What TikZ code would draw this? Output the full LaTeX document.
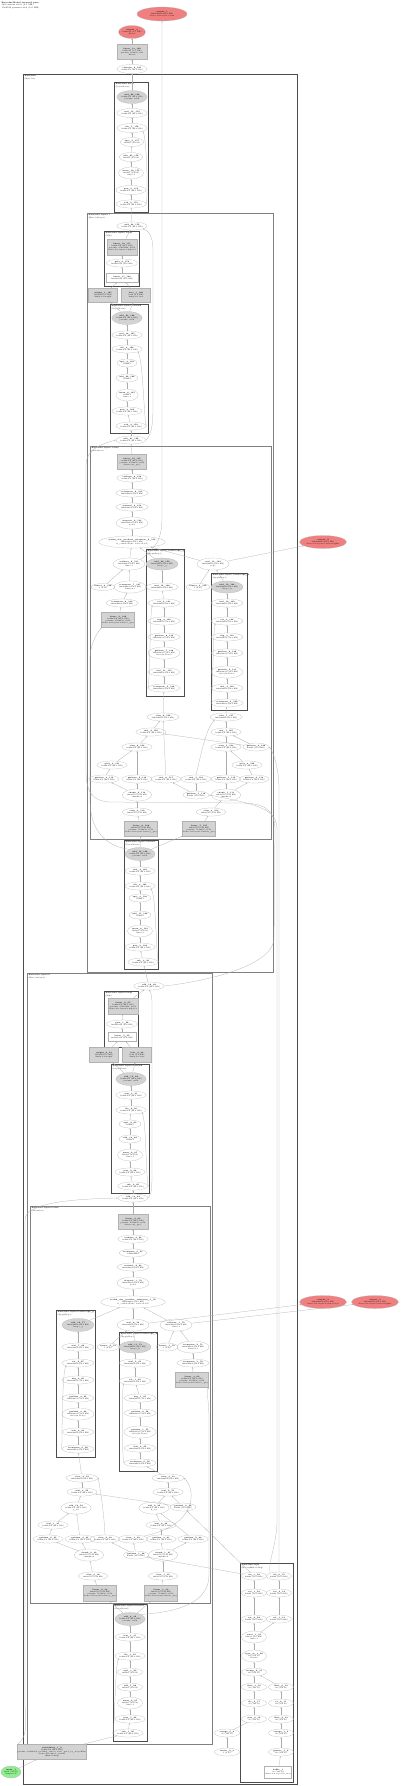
\documentclass[tikz,border=0pt]{standalone}
\usetikzlibrary{shapes.geometric, arrows.meta}

\definecolor{outred}{RGB}{240,128,128}
\definecolor{ingreen}{RGB}{144,238,144}
\definecolor{parfill}{RGB}{211,211,211}
\newcommand{\nodefont}{\fontsize{1.8}{2.2}\selectfont}

\tikzset{
	op/.style = {ellipse, draw = gray!60, line width = 0.2pt, inner sep = 0pt, align = center, font = \nodefont, minimum width = 25pt, minimum height = 8pt},
	parop/.style = {op, fill = parfill},
	outop/.style = {op, fill = outred},
	inop/.style = {op, fill = ingreen},
	wbox/.style = {rectangle, draw = gray!60, fill = parfill, line width = 0.2pt, inner sep = 0.3pt, align = center, font = \nodefont, minimum width = 30pt, minimum height = 15pt},
	bbox/.style = {wbox, fill = white},
	module/.style = {draw = black!70, line width = 0.6pt},
	modlabel/.style = {anchor = north west, inner sep = 0.5pt, align = left, font = \nodefont},
	link/.style = {->, draw = gray!65, line width = 0.25pt}
}

\begin{document}
\begin{tikzpicture}[x = 1pt, y = -1pt, > = {Stealth[length = 1.4pt, width = 1.2pt]}]

	\useasboundingbox (0, 0) rectangle (400, 1786);

	% Title

	\node [modlabel, font = \fontsize{2}{2.5}\selectfont] (title) at (1, 1) {\textbf{EncoderModel forward pass}\\183 tensors total (9.1 MB)\\1582592 params total (6.0 MB)};

	% Module boxes

	\draw [module] (23, 74) rectangle (297, 1784);
	\node [modlabel] (labA) at (24, 75) {\textbf{@encoder}\\(Encoder)};
	\draw [module] (114, 82) rectangle (148, 212);
	\node [modlabel] (labB) at (115, 83) {\textbf{@encoder.norm}\\(LayerNorm)};
	\draw [module, draw = black!50] (87, 213) rectangle (273, 972);
	\node [modlabel] (labC) at (88, 214) {\textbf{@encoder.layers.1}\\(EncoderLayer)};
	\draw [module] (104, 231) rectangle (139, 286);
	\node [modlabel] (labD) at (105, 232) {\textbf{@encoder.layers.1.mlp}\\(Mlp)};
	\draw [module] (110, 304) rectangle (148, 433);
	\node [modlabel] (labE) at (111, 305) {\textbf{@encoder.layers.1.norm2}\\(LayerNorm)};
	\draw [module, draw = black!50] (90, 446) rectangle (271, 839);
	\node [modlabel] (labF) at (91, 447) {\textbf{@encoder.layers.1.attn}\\(Attention)};
	\draw [module] (146, 549) rectangle (184, 696);
	\node [modlabel] (labG) at (147, 550) {\textbf{@encoder.layers.1.attn.rope\_q}\\(ApplyRope)};
	\draw [module] (211, 573) rectangle (247, 710);
	\node [modlabel] (labH) at (212, 574) {\textbf{@encoder.layers.1.attn.rope\_k}\\(ApplyRope)};
	\draw [module] (124, 840) rectangle (158, 969);
	\node [modlabel] (labI) at (125, 841) {\textbf{@encoder.layers.1.norm1}\\(LayerNorm)};
	\draw [module, draw = black!50] (27, 973) rectangle (212, 1744);
	\node [modlabel] (labJ) at (28, 974) {\textbf{@encoder.layers.0}\\(EncoderLayer)};
	\draw [module] (104, 991) rectangle (138, 1047);
	\node [modlabel] (labK) at (105, 992) {\textbf{@encoder.layers.0.mlp}\\(Mlp)};
	\draw [module] (111, 1064) rectangle (149, 1193);
	\node [modlabel] (labL) at (112, 1065) {\textbf{@encoder.layers.0.norm2}\\(LayerNorm)};
	\draw [module, draw = black!50] (30, 1206) rectangle (210, 1603);
	\node [modlabel] (labM) at (31, 1207) {\textbf{@encoder.layers.0.attn}\\(Attention)};
	\draw [module] (56, 1310) rectangle (95, 1457);
	\node [modlabel] (labN) at (57, 1311) {\textbf{@encoder.layers.0.attn.rope\_q}\\(ApplyRope)};
	\draw [module] (119, 1332) rectangle (157, 1471);
	\node [modlabel] (labO) at (120, 1333) {\textbf{@encoder.layers.0.attn.rope\_k}\\(ApplyRope)};
	\draw [module] (113, 1604) rectangle (147, 1741);
	\node [modlabel] (labP) at (114, 1605) {\textbf{@encoder.layers.0.norm1}\\(LayerNorm)};
	\draw [module] (240, 1563) rectangle (293, 1782);
	\node [modlabel] (labQ) at (241, 1564) {\textbf{@encoder.rope}\\(RotaryEmbedding)};

	% Outputs and head

	\node [outop, minimum width = 50pt, minimum height = 14pt] (out0) at (162, 14) {\textbf{output\_1}\\1x4x64x64 (64.0 KB)\\@encoder.layers.1.attn};
	\node [outop, minimum width = 27pt, minimum height = 13pt] (out1) at (132, 32) {\textbf{output\_3}\\1x64x10 (2.5 KB)\\@head};
	\node [wbox] (hw) at (132, 52) {\textbf{linear\_13\_182}\\1x64x10 (2.5 KB)\\params: 10x256, x10\\@head};
	\node [op, minimum height = 9pt] (hr) at (132, 69) {\textbf{reshape\_9\_181}\\1x64x256 (64.0 KB)};

	% Final norm

	\node [parop, minimum width = 27pt, minimum height = 13pt] (bn1) at (132, 97) {\textbf{add\_26\_180}\\1x64x256 (64.0 KB)\\params: x256};
	\node [op, minimum height = 9pt] (bn2) at (132, 113) {\textbf{mul\_15\_179}\\1x64x256 (64.0 KB)};
	\node [op, minimum height = 9pt] (bn3) at (132, 128) {\textbf{div\_5\_178}\\1x64x256 (64.0 KB)};
	\node [op, minimum width = 22pt, minimum height = 9pt] (bn4) at (132, 142) {\textbf{sqrt\_5\_177}\\1x64x1 (256 B)};
	\node [op, minimum width = 22pt, minimum height = 9pt] (bn5) at (131, 157) {\textbf{add\_25\_176}\\1x64x1 (256 B)};
	\node [op, minimum height = 12pt] (bn6) at (131, 173) {\textbf{mean\_10\_175}\\1x64x1 (256 B)\\dim=-1};
	\node [op, minimum width = 29pt, minimum height = 9pt] (bn7) at (131, 190) {\textbf{pow\_5\_174}\\1x64x256 (64.0 KB)};
	\node [op, minimum width = 27pt] (bn8) at (131, 204) {\textbf{sub\_5\_173}\\1x64x256 (64.0 KB)};

	% Layer 1

	\node [op, minimum width = 26pt] (ca) at (132, 226) {\textbf{add\_24\_172}\\1x64x256 (64.0 KB)};
	\node [wbox, minimum height = 16pt] (dn1) at (122, 247) {\textbf{linear\_12\_171}\\1x64x256 (64.0 KB)\\params: 256x1024, x256\\@encoder.layers.1.mlp.fc2};
	\node [op] (dn2) at (122, 263) {\textbf{gelu\_2\_170}\\1x64x1024 (256 KB)};
	\node [bbox, minimum width = 32pt, minimum height = 9pt] (dn3) at (122, 278) {\textbf{linear\_11\_169}\\1x64x1024 (256 KB)};
	\node [wbox, minimum width = 29pt, minimum height = 14pt] (dw1) at (103, 295) {\textbf{weight\_1\_167}\\1024x256 (1 MB)\\@mlp.fc1.weight};
	\node [wbox, minimum width = 29pt, minimum height = 14pt] (dw2) at (136, 295) {\textbf{bias\_1\_168}\\1024 (4.0 KB)\\@mlp.fc1.bias};

	\node [parop, minimum width = 28pt, minimum height = 13pt] (en1) at (127, 318) {\textbf{add\_23\_166}\\1x64x256 (64.0 KB)\\params: x256};
	\node [op, minimum width = 26pt] (en2) at (127, 335) {\textbf{mul\_14\_165}\\1x64x256 (64.0 KB)};
	\node [op, minimum width = 26pt] (en3) at (127, 349) {\textbf{div\_4\_164}\\1x64x256 (64.0 KB)};
	\node [op, minimum width = 20pt] (en4) at (127, 363) {\textbf{sqrt\_4\_163}\\1x64x1};
	\node [op, minimum width = 22pt] (en5) at (127, 378) {\textbf{add\_22\_162}\\1x64x1};
	\node [op, minimum width = 22pt, minimum height = 12pt] (en6) at (127, 395) {\textbf{mean\_8\_161}\\1x64x1\\dim=-1};
	\node [op, minimum width = 26pt] (en7) at (127, 411) {\textbf{pow\_4\_160}\\1x64x256 (64.0 KB)};
	\node [op, minimum width = 26pt] (en8) at (131, 426) {\textbf{sub\_4\_159}\\1x64x256 (64.0 KB)};
	\node [op, minimum width = 26pt] (cb) at (131, 440) {\textbf{add\_21\_158}\\1x64x256 (64.0 KB)};

	% Layer 1 attention

	\node [wbox, minimum width = 29pt] (fn1) at (132, 462) {\textbf{linear\_10\_157}\\1x64x256 (64.0 KB)\\params: 256x256, x256\\@attn.out\_proj};
	\node [op] (fn2) at (132, 478) {\textbf{reshape\_8\_156}\\1x64x256 (64.0 KB)};
	\node [op] (fn3) at (132, 493) {\textbf{transpose\_8\_155}\\1x64x4x64 (64.0 KB)};
	\node [op] (fn4) at (132, 507) {\textbf{matmul\_4\_154}\\1x4x64x64 (64.0 KB)};
	\node [op, minimum height = 12pt] (fn5) at (132, 523) {\textbf{dropout\_2\_153}\\1x4x64x64 (64.0 KB)\\p=0.0};
	\node [op, minimum width = 55pt, minimum height = 12pt] (fn6) at (132, 542) {\textbf{scaled\_dot\_product\_attention\_2\_152}\\1x4x64x64 (64.0 KB)\\is\_causal=False, scale=0.125};
	\node [op, minimum width = 28pt, minimum height = 12pt] (fn7) at (129, 564) {\textbf{softmax\_2\_151}\\1x4x64x64 (64.0 KB)\\dim=-1};
	\node [parop, minimum width = 27pt, minimum height = 12pt] (gn1) at (162, 564) {\textbf{add\_20\_150}\\1x4x64x64 (64.0 KB)\\@rope\_q};
	\node [op, minimum width = 27pt, minimum height = 12pt] (fn8) at (213, 564) {\textbf{mul\_13\_149}\\1x4x64x64 (64.0 KB)\\scale};
	\node [outop, minimum width = 47pt, minimum height = 13pt] (out2) at (323, 542) {\textbf{output\_2}\\1x4x64x64 (64.0 KB)\\@encoder.layers.1.attn.weights};

	\node [op, minimum width = 20pt, minimum height = 7pt] (fa1) at (103, 587) {\textbf{tensor\_4\_148}\\1 (4 B)};
	\node [op, minimum width = 27pt, minimum height = 12pt] (fa2) at (130, 587) {\textbf{transpose\_7\_147}\\1x4x64x64 (64.0 KB)\\dims=2,3};
	\node [op] (gn2) at (162, 587) {\textbf{mul\_12\_146}\\1x4x64x64 (64.0 KB)};
	\node [op, minimum width = 20pt, minimum height = 7pt] (fa3) at (198, 587) {\textbf{tensor\_3\_145}\\1 (4 B)};
	\node [parop, minimum width = 27pt, minimum height = 12pt] (hn1) at (227, 587) {\textbf{add\_19\_144}\\1x4x64x64 (64.0 KB)\\@rope\_k};
	\node [op] (fa4) at (122, 603) {\textbf{transpose\_6\_143}\\1x4x64x64 (64.0 KB)};
	\node [wbox] (fa5) at (118, 620) {\textbf{linear\_9\_142}\\1x64x256 (64.0 KB)\\params: 256x256, x256\\@encoder.layers.1.attn.v\_proj};

	\node [op] (gn3) at (164, 603) {\textbf{cat\_4\_141}\\1x4x64x64 (64.0 KB)};
	\node [op] (gn4) at (164, 621) {\textbf{neg\_4\_140}\\1x4x64x32 (32.0 KB)};
	\node [op] (gn5) at (164, 637) {\textbf{getitem\_8\_139}\\1x4x64x32 (32.0 KB)};
	\node [op, minimum height = 12pt] (gn6) at (164, 653) {\textbf{getitem\_7\_138}\\1x4x64x32 (32.0 KB)\\slice(32,None)};
	\node [op] (gn7) at (164, 672) {\textbf{mul\_11\_137}\\1x4x64x64 (64.0 KB)};
	\node [op] (gn8) at (164, 688) {\textbf{transpose\_5\_136}\\1x4x64x64 (64.0 KB)};

	\node [op] (hn2) at (227, 603) {\textbf{mul\_10\_135}\\1x4x64x64 (64.0 KB)};
	\node [op] (hn3) at (227, 621) {\textbf{cat\_3\_134}\\1x4x64x64 (64.0 KB)};
	\node [op] (hn4) at (227, 637) {\textbf{neg\_3\_133}\\1x4x64x32 (32.0 KB)};
	\node [op] (hn5) at (227, 653) {\textbf{getitem\_6\_132}\\1x4x64x32 (32.0 KB)};
	\node [op, minimum height = 12pt] (hn6) at (227, 672) {\textbf{getitem\_5\_131}\\1x4x64x32 (32.0 KB)\\slice(32,None)};
	\node [op] (hn7) at (227, 688) {\textbf{mul\_9\_130}\\1x4x64x64 (64.0 KB)};
	\node [op] (hn8) at (227, 703) {\textbf{transpose\_4\_129}\\1x4x64x64 (64.0 KB)};

	\node [op] (fb1) at (163, 717) {\textbf{view\_8\_128}\\1x64x4x64 (64.0 KB)};
	\node [op] (fb2) at (226, 717) {\textbf{view\_7\_127}\\1x64x4x64 (64.0 KB)};
	\node [op] (fb3) at (151, 732) {\textbf{mul\_8\_126}\\1x64x256 (64.0 KB)};
	\node [op] (fb4) at (226, 732) {\textbf{mul\_7\_125}\\1x64x256 (64.0 KB)};
	\node [op] (fb5) at (137, 747) {\textbf{view\_6\_124}\\1x64x256 (64.0 KB)};
	\node [op] (fb6) at (226, 747) {\textbf{view\_5\_123}\\1x64x256 (64.0 KB)};
	\node [op] (fb7) at (256, 747) {\textbf{getitem\_4\_122}\\64x64 (16.0 KB)};
	\node [op] (fb8) at (112, 765) {\textbf{split\_4\_121}\\1x64x256 (64.0 KB)};
	\node [op] (fb9) at (247, 765) {\textbf{split\_3\_120}\\1x64x256 (64.0 KB)};
	\node [op] (fc1) at (104, 779) {\textbf{getitem\_3\_119}\\1x64x256 (64.0 KB)};
	\node [op] (fc2) at (137, 779) {\textbf{getitem\_2\_118}\\1x64x256 (64.0 KB)};
	\node [op] (fc3) at (166, 779) {\textbf{mul\_6\_117}\\1x64x256 (64.0 KB)};
	\node [op] (fc4) at (196, 779) {\textbf{mul\_5\_116}\\1x64x256 (64.0 KB)};
	\node [op] (fc5) at (226, 779) {\textbf{getitem\_1\_115}\\1x64x256 (64.0 KB)};
	\node [op] (fc6) at (254, 779) {\textbf{getitem\_0\_114}\\1x64x256 (64.0 KB)};
	\node [op, minimum width = 28pt, minimum height = 12pt] (fd1) at (137, 795) {\textbf{chunk\_2\_113}\\1x64x512 (128 KB)\\chunks=2};
	\node [op, minimum width = 24pt] (fd2) at (196, 795) {\textbf{getitem\_1\_112}\\64x64 (16.0 KB)};
	\node [op, minimum width = 28pt, minimum height = 12pt] (fd3) at (226, 795) {\textbf{chunk\_1\_111}\\1x64x512 (128 KB)\\chunks=2};
	\node [op] (fe1) at (137, 812) {\textbf{view\_4\_110}\\1x64x512 (128 KB)};
	\node [op] (fe2) at (211, 812) {\textbf{view\_3\_109}\\1x64x512 (128 KB)};
	\node [wbox, minimum width = 31pt] (fw1) at (141, 829) {\textbf{linear\_8\_108}\\1x64x512 (128 KB)\\params: 512x256, x512\\@encoder.layers.1.attn.q\_proj};
	\node [wbox, minimum width = 31pt] (fw2) at (199, 829) {\textbf{linear\_7\_107}\\1x64x512 (128 KB)\\params: 512x256, x512\\@encoder.layers.1.attn.k\_proj};

	% Layer 1 first norm

	\node [parop, minimum width = 28pt, minimum height = 13pt] (in1) at (140, 854) {\textbf{add\_18\_106}\\1x64x256 (64.0 KB)\\params: x256};
	\node [op] (in2) at (140, 871) {\textbf{mul\_4\_105}\\1x64x256 (64.0 KB)};
	\node [op] (in3) at (140, 886) {\textbf{div\_3\_104}\\1x64x256 (64.0 KB)};
	\node [op, minimum width = 22pt] (in4) at (140, 898) {\textbf{sqrt\_3\_103}\\1x64x1};
	\node [op, minimum width = 22pt] (in5) at (140, 915) {\textbf{add\_17\_102}\\1x64x1};
	\node [op, minimum height = 12pt] (in6) at (140, 931) {\textbf{mean\_6\_101}\\1x64x1 (256 B)\\dim=-1};
	\node [op] (in7) at (140, 947) {\textbf{pow\_3\_100}\\1x64x256 (64.0 KB)};
	\node [op] (in8) at (143, 962) {\textbf{sub\_3\_99}\\1x64x256 (64.0 KB)};

	% Layer 0

	\node [op] (ja) at (149, 986) {\textbf{add\_16\_98}\\1x64x256 (64.0 KB)};
	\node [wbox, minimum height = 16pt] (kn1) at (123, 1006) {\textbf{linear\_6\_97}\\1x64x256 (64.0 KB)\\params: 256x1024, x256\\@encoder.layers.0.mlp.fc2};
	\node [op] (kn2) at (122, 1024) {\textbf{gelu\_1\_96}\\1x64x1024 (256 KB)};
	\node [bbox, minimum width = 28pt, minimum height = 9pt] (kn3) at (122, 1037) {\textbf{linear\_5\_95}\\1x64x1024 (256 KB)};
	\node [wbox, minimum width = 29pt] (kw1) at (104, 1055) {\textbf{weight\_0\_93}\\1024x256 (1 MB)\\@mlp.fc1.weight};
	\node [wbox, minimum width = 29pt] (kw2) at (137, 1055) {\textbf{bias\_0\_94}\\1024 (4.0 KB)\\@mlp.fc1.bias};

	\node [parop, minimum width = 28pt, minimum height = 13pt] (ln1) at (131, 1079) {\textbf{add\_15\_92}\\1x64x256 (64.0 KB)\\params: x256};
	\node [op] (ln2) at (131, 1095) {\textbf{mul\_3\_91}\\1x64x256 (64.0 KB)};
	\node [op] (ln3) at (131, 1110) {\textbf{div\_2\_90}\\1x64x256 (64.0 KB)};
	\node [op, minimum width = 22pt] (ln4) at (130, 1124) {\textbf{sqrt\_2\_89}\\1x64x1};
	\node [op, minimum width = 22pt] (ln5) at (130, 1139) {\textbf{add\_14\_88}\\1x64x1};
	\node [op, minimum height = 12pt] (ln6) at (130, 1155) {\textbf{mean\_4\_87}\\1x64x1 (256 B)\\dim=-1};
	\node [op] (ln7) at (130, 1172) {\textbf{pow\_2\_86}\\1x64x256 (64.0 KB)};
	\node [op] (ln8) at (133, 1186) {\textbf{sub\_2\_85}\\1x64x256 (64.0 KB)};
	\node [op] (jb) at (133, 1198) {\textbf{add\_13\_84}\\1x64x256 (64.0 KB)};

	% Layer 0 attention

	\node [wbox] (mn1) at (133, 1222) {\textbf{linear\_4\_83}\\1x64x256 (64.0 KB)\\params: 256x256, x256\\@attn.out\_proj};
	\node [op] (mn2) at (133, 1239) {\textbf{reshape\_4\_82}\\1x64x256 (64.0 KB)};
	\node [op, minimum width = 22pt] (mn3) at (133, 1253) {\textbf{transpose\_3\_81}\\1x64x4x64};
	\node [op] (mn4) at (133, 1267) {\textbf{matmul\_2\_80}\\1x4x64x64 (64.0 KB)};
	\node [op, minimum height = 12pt] (mn5) at (133, 1283) {\textbf{dropout\_1\_79}\\1x4x64x64 (64.0 KB)\\p=0.0};
	\node [op, minimum width = 55pt, minimum height = 12pt] (mn6) at (133, 1302) {\textbf{scaled\_dot\_product\_attention\_1\_78}\\1x4x64x64 (64.0 KB)\\is\_causal=False, scale=0.125};
	\node [parop, minimum width = 27pt, minimum height = 13pt] (nn1) at (78, 1325) {\textbf{add\_12\_77}\\1x4x64x64 (64.0 KB)\\@rope\_q};
	\node [op, minimum height = 12pt] (mn7) at (133, 1325) {\textbf{mul\_8\_76}\\1x4x64x64 (64.0 KB)\\scale};
	\node [op, minimum height = 12pt] (mn8) at (176, 1325) {\textbf{softmax\_1\_75}\\1x4x64x64 (64.0 KB)\\dim=-1};
	\node [outop, minimum width = 47pt, minimum height = 13pt] (out3) at (323, 1302) {\textbf{output\_4}\\1x4x64x64 (64.0 KB)\\@encoder.layers.0.attn.scores};
	\node [outop, minimum width = 47pt, minimum height = 13pt] (out4) at (375, 1302) {\textbf{output\_5}\\1x4x64x64 (64.0 KB)\\@encoder.layers.0.attn.weights};

	\node [op, minimum width = 17pt] (ma1) at (108, 1347) {\textbf{tensor\_2\_74}\\1 (4 B)};
	\node [parop, minimum width = 27pt, minimum height = 12pt] (on1) at (135, 1347) {\textbf{add\_11\_73}\\1x4x64x64 (64.0 KB)\\@rope\_k};
	\node [op, minimum width = 18pt] (ma2) at (167, 1347) {\textbf{tensor\_1\_72}\\1 (4 B)};
	\node [op, minimum width = 26pt, minimum height = 12pt] (ma3) at (193, 1347) {\textbf{transpose\_2\_71}\\1x4x64x64 (64.0 KB)\\dims=2,3};
	\node [op] (ma4) at (193, 1363) {\textbf{transpose\_1\_70}\\1x4x64x64 (64.0 KB)};
	\node [wbox] (ma5) at (192, 1380) {\textbf{linear\_3\_69}\\1x64x256 (64.0 KB)\\params: 256x256, x256\\@encoder.layers.0.attn.v\_proj};

	\node [op] (nn2) at (78, 1347) {\textbf{mul\_7\_68}\\1x4x64x64 (64.0 KB)};
	\node [op] (nn3) at (78, 1363) {\textbf{cat\_2\_67}\\1x4x64x64 (64.0 KB)};
	\node [op] (nn4) at (78, 1380) {\textbf{neg\_2\_66}\\1x4x64x32 (32.0 KB)};
	\node [op] (nn5) at (78, 1398) {\textbf{getitem\_4\_65}\\1x4x64x32 (32.0 KB)};
	\node [op, minimum height = 12pt] (nn6) at (78, 1414) {\textbf{getitem\_3\_64}\\1x4x64x32 (32.0 KB)\\slice(32,None)};
	\node [op] (nn7) at (78, 1432) {\textbf{mul\_6\_63}\\1x4x64x64 (64.0 KB)};
	\node [op] (nn8) at (78, 1449) {\textbf{transpose\_0\_62}\\1x4x64x64 (64.0 KB)};

	\node [op] (on2) at (135, 1363) {\textbf{mul\_5\_61}\\1x4x64x64 (64.0 KB)};
	\node [op] (on3) at (135, 1381) {\textbf{cat\_1\_60}\\1x4x64x64 (64.0 KB)};
	\node [op] (on4) at (140, 1398) {\textbf{neg\_1\_59}\\1x4x64x32 (32.0 KB)};
	\node [op] (on5) at (140, 1413) {\textbf{getitem\_2\_58}\\1x4x64x32 (32.0 KB)};
	\node [op, minimum height = 12pt] (on6) at (140, 1432) {\textbf{getitem\_1\_57}\\1x4x64x32 (32.0 KB)\\slice(32,None)};
	\node [op] (on7) at (140, 1448) {\textbf{mul\_4\_56}\\1x4x64x64 (64.0 KB)};
	\node [op] (on8) at (140, 1463) {\textbf{transpose\_0\_55}\\1x4x64x64 (64.0 KB)};

	\node [op] (mb1) at (82, 1478) {\textbf{view\_4\_54}\\1x64x4x64 (64.0 KB)};
	\node [op] (mb2) at (168, 1478) {\textbf{view\_3\_53}\\1x64x4x64 (64.0 KB)};
	\node [op] (mb3) at (82, 1492) {\textbf{mul\_3\_52}\\1x64x256 (64.0 KB)};
	\node [op] (mb4) at (168, 1492) {\textbf{mul\_2\_51}\\1x64x256 (64.0 KB)};
	\node [op, minimum width = 28pt, minimum height = 12pt] (mc1) at (76, 1508) {\textbf{add\_10\_50}\\1x64x256 (64.0 KB)\\q\_rot};
	\node [op, minimum width = 28pt, minimum height = 12pt] (mc2) at (154, 1508) {\textbf{add\_9\_49}\\1x64x256 (64.0 KB)\\k\_rot};
	\node [op, minimum width = 26pt] (mc3) at (183, 1507) {\textbf{getitem\_0\_48}\\64x64 (16.0 KB)};
	\node [op] (mc4) at (53, 1525) {\textbf{mul\_1\_47}\\1x64x256 (64.0 KB)};
	\node [op] (mc5) at (161, 1525) {\textbf{mul\_0\_46}\\1x64x256 (64.0 KB)};
	\node [op] (md1) at (48, 1539) {\textbf{getitem\_5\_45}\\1x64x256 (64.0 KB)};
	\node [op] (md2) at (80, 1539) {\textbf{getitem\_4\_44}\\1x64x256 (64.0 KB)};
	\node [op] (md3) at (105, 1539) {\textbf{view\_2\_43}\\1x64x256 (64.0 KB)};
	\node [op] (md4) at (133, 1539) {\textbf{view\_1\_42}\\1x64x256 (64.0 KB)};
	\node [op] (md5) at (161, 1539) {\textbf{getitem\_3\_41}\\1x64x256 (64.0 KB)};
	\node [op] (md6) at (193, 1539) {\textbf{getitem\_2\_40}\\1x64x256 (64.0 KB)};
	\node [op, minimum width = 28pt, minimum height = 12pt] (me1) at (89, 1555) {\textbf{chunk\_0\_39}\\1x64x512 (128 KB)\\chunks=2};
	\node [op, minimum width = 24pt] (me2) at (136, 1555) {\textbf{getitem\_1\_38}\\64x64 (16.0 KB)};
	\node [op, minimum width = 28pt, minimum height = 12pt] (me3) at (163, 1555) {\textbf{chunk\_1\_37}\\1x64x512 (128 KB)\\chunks=2};
	\node [op] (mf1) at (93, 1576) {\textbf{view\_0\_36}\\1x64x512 (128 KB)};
	\node [op] (mf2) at (163, 1576) {\textbf{view\_1\_35}\\1x64x512 (128 KB)};
	\node [wbox, minimum height = 16pt] (mw1) at (100, 1593) {\textbf{linear\_2\_34}\\1x64x512 (128 KB)\\params: 512x256, x512\\@encoder.layers.0.attn.q\_proj};
	\node [wbox, minimum height = 16pt] (mw2) at (161, 1593) {\textbf{linear\_1\_33}\\1x64x512 (128 KB)\\params: 512x256, x512\\@encoder.layers.0.attn.k\_proj};

	% Layer 0 first norm

	\node [parop, minimum width = 27pt, minimum height = 13pt] (pn1) at (130, 1619) {\textbf{add\_8\_32}\\1x64x256 (64.0 KB)\\params: x256};
	\node [op] (pn2) at (130, 1637) {\textbf{mul\_1\_31}\\1x64x256 (64.0 KB)};
	\node [op] (pn3) at (130, 1656) {\textbf{div\_1\_30}\\1x64x256 (64.0 KB)};
	\node [op] (pn4) at (130, 1672) {\textbf{sqrt\_1\_29}\\1x64x1 (256 B)};
	\node [op] (pn5) at (130, 1687) {\textbf{add\_7\_28}\\1x64x1 (256 B)};
	\node [op, minimum height = 12pt] (pn6) at (130, 1703) {\textbf{mean\_2\_27}\\1x64x1 (256 B)\\dim=-1};
	\node [op] (pn7) at (130, 1719) {\textbf{pow\_1\_26}\\1x64x256 (64.0 KB)};
	\node [op] (pn8) at (128, 1733) {\textbf{sub\_1\_25}\\1x64x256 (64.0 KB)};

	% Input side

	\node [wbox, minimum width = 51pt] (embw) at (52, 1752) {\textbf{embedding\_1\_2}\\1x64x256 (64.0 KB)\\params: 1000x256, padding\_idx=0, scale\_grad\_by\_freq=False\\@encoder.embed\_tokens\\(Embedding)};
	\node [inop, minimum width = 20pt, minimum height = 12pt] (inp) at (11, 1772) {\textbf{input\_1}\\1x64 (512 B)\\@input.ids};

	% Rotary table

	\node [op] (qa1) at (254, 1576) {\textbf{sin\_1\_24}\\64x64 (16.0 KB)};
	\node [op] (qa2) at (254, 1593) {\textbf{cos\_1\_23}\\64x64 (16.0 KB)};
	\node [op] (qa3) at (254, 1619) {\textbf{cat\_0\_22}\\64x64 (16.0 KB)};
	\node [op, minimum height = 12pt] (qa4) at (254, 1637) {\textbf{outer\_1\_21}\\64x32 (8.0 KB)\\dim=-1};
	\node [op, minimum height = 12pt] (qa5) at (254, 1656) {\textbf{type\_as\_1\_20}\\64 (256 B)\\float32};
	\node [op] (qa6) at (254, 1672) {\textbf{arange\_2\_19}\\64 (256 B)};
	\node [op] (qa7) at (254, 1687) {\textbf{float\_1\_18}\\32 (128 B)};
	\node [op] (qa8) at (254, 1703) {\textbf{div\_0\_17}\\32 (128 B)};
	\node [op] (qa9) at (254, 1719) {\textbf{pow\_0\_16}\\32 (128 B)};
	\node [op] (qb1) at (279, 1576) {\textbf{sin\_0\_15}\\64x64 (16.0 KB)};
	\node [op] (qb2) at (279, 1593) {\textbf{cos\_0\_14}\\64x64 (16.0 KB)};
	\node [op] (qb3) at (279, 1619) {\textbf{cat\_1\_13}\\64x64 (16.0 KB)};
	\node [op] (qb4) at (281, 1687) {\textbf{float\_0\_12}\\64 (256 B)};
	\node [op] (qb5) at (281, 1703) {\textbf{to\_0\_11}\\64 (256 B)};
	\node [op] (qb6) at (281, 1719) {\textbf{float\_2\_10}\\64 (256 B)};
	\node [op] (qb7) at (281, 1733) {\textbf{arange\_1\_9}\\64 (256 B)};
	\node [op] (qb8) at (281, 1752) {\textbf{getattr\_1\_8}\\64 (256 B)};
	\node [bbox, minimum width = 27pt, minimum height = 12pt] (qb9) at (278, 1772) {\textbf{buffer\_1}\\32 (128 B)\\@encoder.rope.inv\_freq};
	\node [op] (qc1) at (227, 1733) {\textbf{arange\_0\_4}\\32 (128 B)};
	\node [op] (qc2) at (227, 1752) {\textbf{tensor\_0\_3}\\1 (4 B)};

	% Straight connectors

	\foreach \a/\b in {bn1/hr, hr/hw, hw/out1, bn8/bn7, bn7/bn6, bn6/bn5, bn5/bn4, bn4/bn3, bn3/bn2, bn2/bn1, ca/bn8,
		dn3/dn2, dn2/dn1, dn1/ca, dw1/dn3, dw2/dn3, en1/dw1, en1/dw2,
		cb/en8, en8/en7, en7/en6, en6/en5, en5/en4, en4/en3, en3/en2, en2/en1,
		fn1/cb, fn6/fn5, fn5/fn4, fn4/fn3, fn3/fn2, fn2/fn1, gn1/fn6, fn7/fn6, fn8/fn6, fn8/out2,
		fa1/fn7, fa2/fn7, fa3/fn8, hn1/fn8, fa4/fa2, fa5/fa4,
		gn8/gn7, gn7/gn6, gn6/gn5, gn5/gn4, gn4/gn3, gn3/gn2, gn2/gn1,
		hn8/hn7, hn7/hn6, hn6/hn5, hn5/hn4, hn4/hn3, hn3/hn2, hn2/hn1,
		fb1/gn8, fb2/hn8, fb3/fb1, fb4/fb2, fb5/fb3, fb6/fb4, fb7/fb3, fb7/fb4, fb8/fb5, fb9/fb6,
		fc1/fb8, fc2/fb5, fc3/fb1, fc5/fb6, fc6/fb9,
		fd1/fc1, fd1/fc2, fd2/fc3, fd2/fc4, fd3/fc5, fd3/fc6, fe1/fd1, fe2/fd3, fw1/fe1, fw2/fe2, in1/fw1, in1/fw2,
		ja/in8, in8/in7, in7/in6, in6/in5, in5/in4, in4/in3, in3/in2, in2/in1,
		kn1/ja, kn2/kn1, kn3/kn2, kw1/kn3, kw2/kn3, ln1/kw1, ln1/kw2,
		jb/ln8, ln8/ln7, ln7/ln6, ln6/ln5, ln5/ln4, ln4/ln3, ln3/ln2, ln2/ln1,
		mn1/jb, mn6/mn5, mn5/mn4, mn4/mn3, mn3/mn2, mn2/mn1, nn1/mn6, mn7/mn6, mn8/mn6, mn7/out3, mn8/out4,
		ma1/mn7, on1/mn7, ma2/mn8, ma3/mn8, ma4/ma3, ma5/ma4,
		nn8/nn7, nn7/nn6, nn6/nn5, nn5/nn4, nn4/nn3, nn3/nn2, nn2/nn1,
		on8/on7, on7/on6, on6/on5, on5/on4, on4/on3, on3/on2, on2/on1,
		mb1/nn8, mb2/on8, mb3/mb1, mb4/mb2, mc1/mb3, mc2/mb4, mc3/mb3, mc3/mb4, mc4/mc1, md2/mc1, md1/mc4,
		md5/mc5, mc5/mc2, md6/mc2, me1/md1, me1/md2, me2/md3, me2/md4, me3/md5, me3/md6,
		mf1/me1, mf2/me3, mw1/mf1, mw2/mf2, pn1/mw1, pn1/mw2,
		pn8/pn7, pn7/pn6, pn6/pn5, pn5/pn4, pn4/pn3, pn3/pn2, pn2/pn1,
		inp/embw, embw/pn8,
		qa9/qa8, qa8/qa7, qa7/qa6, qa6/qa5, qa5/qa4, qa4/qa3, qa3/qa2, qa2/qa1, qa4/qb3, qb3/qb2, qb2/qb1,
		qb9/qb8, qb8/qb7, qb7/qb6, qb6/qb5, qb5/qb4, qb4/qa6, qc2/qc1, qc1/qa9,
		qa1/mc3, qa1/me2}
		\draw [link] (\a) -- (\b);

	% Curved connectors

	\draw [link] (fn7.north east) .. controls (160, 545) and (162, 535) .. (162, 515) -- (out0.south);
	\draw [link] (fc4.north) .. controls (200, 760) and (205, 730) .. (fb2.south west);
	\draw [link] (md3.north) .. controls (104, 1512) and (100, 1488) .. (mb1.east);
	\draw [link] (md4.north east) .. controls (198, 1525) and (196, 1490) .. (mb2.east);

	% Skips inside the norm and rope boxes

	\draw [link] (bn8.east) .. controls (148, 198) and (147, 140) .. (bn3.south east);
	\draw [link] (en8.east) .. controls (144, 420) and (143, 360) .. (en3.south east);
	\draw [link] (in8.east) .. controls (156, 955) and (156, 895) .. (in3.south east);
	\draw [link] (ln8.east) .. controls (146, 1180) and (146, 1118) .. (ln3.south east);
	\draw [link] (gn8.west) .. controls (150, 685) and (150, 610) .. (gn3.south west);
	\draw [link] (hn8.west) .. controls (213, 698) and (213, 628) .. (hn3.south west);
	\draw [link] (nn8.west) .. controls (62, 1445) and (62, 1370) .. (nn3.south west);
	\draw [link] (on8.west) .. controls (122, 1458) and (122, 1390) .. (on3.south west);
	\draw [link] (pn8.west) .. controls (115, 1728) and (115, 1662) .. (pn3.south west);

	% Residual connectors

	\draw [link] (cb.east) .. controls (153, 432) and (153, 420) .. (153, 400) -- (153, 250) .. controls (153, 236) and (148, 230) .. (ca.south east);
	\draw [link] (jb.east) .. controls (152, 1194) and (152, 1185) .. (152, 1170) -- (152, 1005) .. controls (152, 996) and (151, 992) .. (ja.south);
	\draw [link] (ja.east) .. controls (200, 982) and (270, 968) .. (274, 940) -- (275, 830) .. controls (275, 808) and (262, 803) .. (240, 803) -- (110, 802) .. controls (92, 801) and (86, 792) .. (86, 770) -- (86, 465) .. controls (86, 448) and (105, 443) .. (cb.west);
	\draw [link] (in1.north west) .. controls (105, 846) and (90, 830) .. (90, 800) -- (90, 660) .. controls (90, 640) and (100, 630) .. (fa5.south west);
	\draw [link] (embw.north west) .. controls (29, 1736) and (25, 1722) .. (25, 1700) -- (25, 1220) .. controls (25, 1203) and (70, 1199) .. (jb.west);
	\draw [link] (pn1.north east) .. controls (180, 1612) and (209, 1602) .. (209, 1575) -- (209, 1420) .. controls (209, 1400) and (206, 1392) .. (ma5.south east);

	% Rotary table to both attention blocks

	\draw [link] (qb1.north) -- (279, 790) .. controls (279, 765) and (272, 750) .. (fb7.east);
	\draw [link] (qb1.north west) .. controls (268, 1560) and (277, 1545) .. (277, 1520) -- (277, 830) .. controls (277, 810) and (262, 805) .. (fd2.east);

\end{tikzpicture}
\end{document}
